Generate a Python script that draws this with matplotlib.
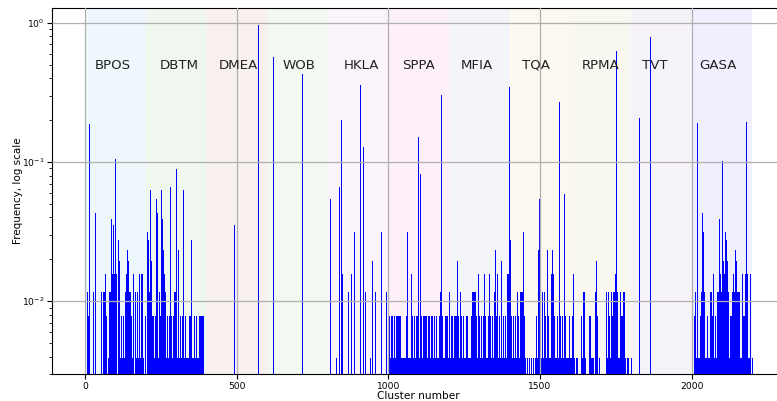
import matplotlib.pyplot as plt

tasks = ["BPOS", "DBTM", "DMEA", "WOB", "HKLA", "SPPA", "MFIA", "TQA", "RPMA", "TVT", "GASA"]
task_colors = ["#eef8fc", "#eff7ef", "#f8f0ef", "#f1f9f1", "#fbf4fb", "#fdf0fb",
               "#f3f5fa", "#fdf8f0", "#f9f8f0", "#f6f2f9", "#efeffd"]
n_samples = 256

# (cluster, count) pairs, frequency = count / n_samples
bpos = [(0, 5), (7, 3), (11, 2), (14, 48), (27, 3), (34, 11), (51, 3), (60, 3), (64, 3),
        (67, 4), (70, 2), (77, 1), (80, 3), (83, 3), (87, 10), (90, 4), (93, 9), (97, 4),
        (100, 27), (103, 4), (107, 6), (110, 7), (113, 5), (116, 1), (120, 2), (123, 1),
        (126, 2), (130, 1), (133, 3), (136, 4), (139, 6), (143, 5), (146, 3), (149, 3),
        (153, 2), (156, 1), (159, 4), (163, 3), (166, 2), (169, 1), (172, 3), (176, 1),
        (179, 4), (182, 1), (186, 4), (189, 4), (192, 1), (196, 2)]
dbtm = [(203, 8), (206, 7), (210, 3), (213, 16), (216, 5), (220, 2), (223, 2), (226, 1),
        (230, 2), (233, 14), (236, 11), (239, 1), (243, 3), (246, 2), (249, 16), (253, 10),
        (256, 6), (259, 4), (262, 3), (266, 1), (269, 2), (272, 1), (276, 2), (279, 17),
        (282, 2), (286, 1), (289, 2), (292, 3), (295, 3), (298, 2), (301, 23), (304, 1),
        (308, 6), (311, 1), (314, 2), (317, 1), (320, 2), (324, 16), (327, 1), (330, 2),
        (333, 1), (337, 1), (340, 1), (343, 2), (347, 2), (350, 7), (353, 1), (357, 1),
        (360, 2), (364, 1), (367, 2), (370, 1), (373, 1), (377, 2), (380, 2), (383, 2),
        (386, 2), (390, 2)]
dmea = [(492, 9), (571, 247)]
wob = [(619, 146), (716, 110)]
hkla = [(808, 14), (828, 1), (838, 17), (845, 51), (848, 4), (868, 3), (877, 4), (887, 8),
        (905, 92), (917, 33), (923, 3), (940, 1), (947, 5), (957, 3), (976, 8), (993, 3)]
sppa = [(1003, 2), (1006, 1), (1009, 2), (1013, 2), (1016, 1), (1019, 2), (1023, 1),
        (1026, 2), (1029, 2), (1032, 2), (1036, 2), (1039, 2), (1042, 1), (1046, 1),
        (1049, 1), (1052, 1), (1055, 1), (1059, 2), (1062, 8), (1065, 1), (1069, 1),
        (1072, 1), (1075, 4), (1079, 2), (1082, 1), (1085, 2), (1088, 1), (1092, 2),
        (1095, 2), (1098, 39), (1101, 1), (1104, 21), (1108, 2), (1111, 1), (1115, 2),
        (1118, 2), (1121, 2), (1125, 2), (1128, 1), (1131, 2), (1135, 2), (1138, 1),
        (1141, 2), (1144, 2), (1148, 1), (1151, 2), (1154, 1), (1158, 2), (1161, 1),
        (1164, 1), (1168, 2), (1171, 3), (1174, 78), (1177, 2), (1181, 1), (1184, 1),
        (1187, 2), (1191, 2), (1194, 2), (1197, 1)]
mfia = [(1200, 3), (1204, 1), (1207, 2), (1210, 2), (1214, 1), (1217, 2), (1220, 2),
        (1224, 2), (1227, 5), (1230, 2), (1233, 1), (1237, 3), (1240, 2), (1243, 1),
        (1247, 2), (1250, 1), (1253, 1), (1256, 2), (1260, 2), (1263, 1), (1266, 1),
        (1270, 1), (1273, 2), (1276, 3), (1280, 3), (1283, 3), (1286, 3), (1289, 2),
        (1293, 1), (1296, 4), (1299, 2), (1303, 1), (1306, 2), (1309, 1), (1312, 2),
        (1316, 4), (1319, 2), (1322, 1), (1326, 1), (1329, 2), (1332, 4), (1336, 2),
        (1339, 1), (1342, 2), (1345, 1), (1349, 3), (1352, 6), (1355, 2), (1359, 4),
        (1362, 1), (1365, 2), (1369, 1), (1372, 5), (1375, 1), (1378, 2), (1382, 1),
        (1385, 2), (1388, 1), (1392, 4), (1395, 4), (1398, 88)]
tqa = [(1401, 7), (1405, 2), (1408, 1), (1411, 2), (1415, 1), (1418, 2), (1421, 1),
       (1425, 3), (1428, 2), (1431, 1), (1434, 3), (1438, 3), (1441, 3), (1444, 8),
       (1448, 2), (1451, 1), (1457, 1), (1464, 1), (1471, 1), (1477, 1), (1484, 1),
       (1487, 2), (1490, 1), (1494, 6), (1497, 14), (1500, 2), (1504, 1), (1507, 3),
       (1510, 1), (1513, 3), (1517, 2), (1520, 1), (1523, 6), (1527, 2), (1530, 1),
       (1533, 1), (1537, 4), (1540, 6), (1543, 4), (1546, 2), (1550, 1), (1553, 1),
       (1556, 2), (1560, 1), (1563, 69), (1566, 2), (1570, 1), (1573, 2), (1576, 1),
       (1579, 15), (1583, 2), (1586, 1), (1589, 1), (1593, 1), (1596, 2), (1599, 1)]
rpma = [(1602, 1), (1606, 2), (1609, 4), (1612, 1), (1619, 1), (1622, 1), (1635, 2),
        (1639, 1), (1642, 3), (1645, 3), (1649, 1), (1662, 2), (1665, 2), (1668, 1),
        (1672, 1), (1675, 1), (1682, 3), (1685, 5), (1688, 2), (1695, 1), (1718, 3),
        (1721, 1), (1724, 3), (1728, 2), (1731, 1), (1734, 3), (1738, 2), (1741, 3),
        (1744, 3), (1747, 4), (1751, 162), (1754, 3), (1757, 1), (1761, 1), (1764, 3),
        (1767, 2), (1770, 2), (1774, 3), (1777, 3), (1780, 1), (1787, 1), (1790, 1),
        (1799, 1)]
tvt = [(1826, 53), (1863, 202)]
gasa = [(2008, 2), (2011, 3), (2014, 1), (2018, 49), (2021, 1), (2024, 1), (2027, 2),
        (2031, 3), (2034, 11), (2037, 8), (2041, 3), (2044, 1), (2047, 1), (2050, 2),
        (2054, 1), (2057, 1), (2060, 3), (2064, 3), (2067, 2), (2070, 4), (2074, 1),
        (2077, 2), (2080, 1), (2083, 3), (2087, 3), (2090, 10), (2093, 4), (2097, 3),
        (2100, 26), (2103, 5), (2107, 4), (2110, 8), (2113, 7), (2116, 5), (2120, 3),
        (2123, 1), (2126, 2), (2130, 2), (2133, 3), (2136, 4), (2139, 3), (2143, 6),
        (2146, 5), (2149, 3), (2153, 3), (2156, 3), (2159, 1), (2163, 1), (2166, 4),
        (2169, 2), (2172, 2), (2176, 4), (2179, 50), (2182, 4), (2186, 1), (2189, 1),
        (2192, 4), (2199, 1)]

task_data = [bpos, dbtm, dmea, wob, hkla, sppa, mfia, tqa, rpma, tvt, gasa]
task_width = 200
label_x = [92, 311, 507, 706, 911, 1098, 1293, 1485, 1701, 1877, 2087]

fig = plt.figure(figsize=(7.77, 4.01), dpi=100)
ax = fig.add_axes([51.7 / 777, 27 / 401, 734 / 777, 366 / 401])

for i, (name, col) in enumerate(zip(tasks, task_colors)):
    ax.axvspan(i * task_width, (i + 1) * task_width, color=col, lw=0, zorder=0)
    ax.text(label_x[i], 0.47, name, ha="center", va="baseline", fontsize=9.6, color="#222222")

xs = [c for d in task_data for c, _ in d]
ys = [n / n_samples for d in task_data for _, n in d]
ax.vlines(xs, 1e-4, ys, color="blue", lw=0.72, antialiased=False, zorder=2)

ax.set_yscale("log")
ax.set_xlim(-110, 2310)
ax.set_ylim(0.003, 1.28)
ax.grid(True, color="#b0b0b0", lw=0.9)
ax.set_axisbelow(False)
ax.tick_params(labelsize=6.6, pad=2)
ax.set_xlabel("Cluster number", fontsize=7.6, labelpad=0)
ax.set_ylabel("Frequency, log scale", fontsize=7.5, labelpad=-1)

fig.savefig("out.png", dpi=100)
